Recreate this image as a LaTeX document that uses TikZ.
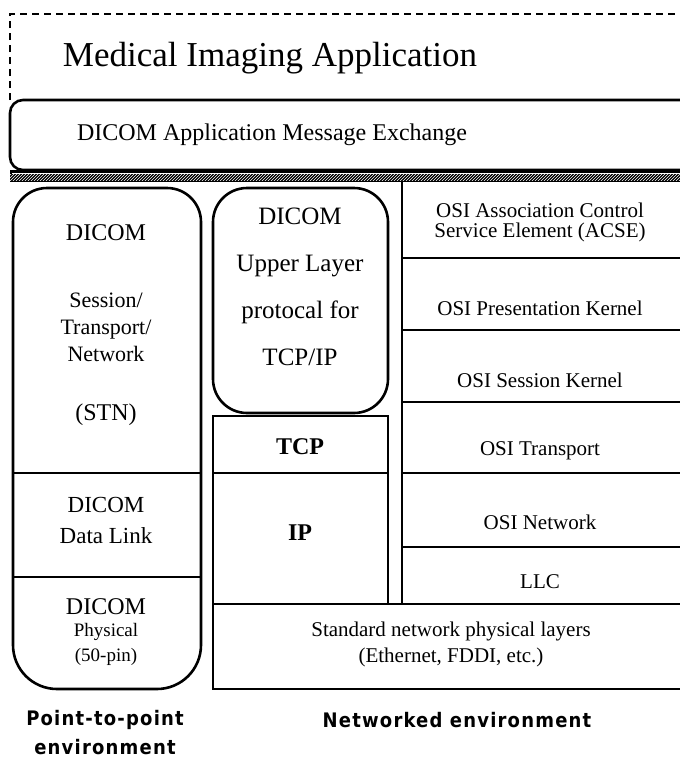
\documentclass[tikz,border=0pt]{standalone}
\usepackage{fontspec}
\setmainfont{Liberation Serif}
\newfontfamily\envfont[LetterSpace=6]{DejaVu Sans Condensed Bold}
\usetikzlibrary{patterns}

\tikzset{
  layer/.style={font=\fontsize{21}{20}\selectfont, align=center},
  dicom/.style={font=\fontsize{24}{27}\selectfont, align=center},
  env/.style={font=\envfont\fontsize{20}{29}\selectfont, align=center, inner sep=1pt}
}

\begin{document}
\begin{tikzpicture}[x=1pt,y=-1pt,line width=2.6pt]
   \useasboundingbox (0,0) rectangle (680,761);
   \clip (0,0) rectangle (680,761);
   \draw[line width=1.5pt,dash pattern=on 7pt off 5pt] (10,100) -- (10,14) -- (690,14);
   \draw[rounded corners=13pt] (700,100) -- (10,100) -- (10,170) -- (700,170);
   \fill (10,170) rectangle (690,182);
   \draw[line width=0.8pt,white] (12,173) -- (690,173);
   \fill[pattern=north east lines,pattern color=white] (10,174) rectangle (690,180);
   \draw (13,430) [rounded corners=34pt] -- (13,188) -- (201,188) -- (201,430)
         [rounded corners=44pt] -- (201,689) -- (13,689) -- cycle;
   \draw (13,473) -- (201,473);
   \draw (13,577) -- (201,577);
   \draw[rounded corners=34pt] (213,188) rectangle (388,413);
   \draw (213,416) rectangle (388,604);
   \draw (213,473) -- (388,473);
   \draw (402,182) -- (402,604);
   \foreach \y in {258,330,402,473,547} \draw (402,\y) -- (690,\y);
   \draw (690,604) -- (213,604) -- (213,689) -- (690,689);

   \node[dicom] (app) at (270,58) {\fontsize{35}{40}\selectfont Medical Imaging Application};
   \node[dicom] (amx) at (272,135) {DICOM Application Message Exchange};

   \node[dicom] (stn) at (106,233) {DICOM};
   \node[dicom,font=\fontsize{22}{27}\selectfont] (stnlayers) at (106,327) {Session/\\Transport/\\Network};
   \node[dicom] (stnabbr) at (106,415) {(STN)};
   \node[dicom,font=\fontsize{23}{31}\selectfont] (link) at (106,520) {DICOM\\Data Link};
   \node[dicom] (phys) at (106,607) {DICOM};
   \node[layer,font=\fontsize{19}{25}\selectfont] (physpin) at (106,644) {Physical\\(50-pin)};

   \node[dicom,font=\fontsize{25}{47}\selectfont] (ulp) at (300,287) {DICOM\\Upper Layer\\protocal for\\TCP/IP};
   \node[dicom,font=\bfseries\fontsize{24}{27}\selectfont] (tcp) at (300,447) {TCP};
   \node[dicom,font=\bfseries\fontsize{24}{27}\selectfont] (ip) at (300,533) {IP};

   \node[layer] (acse) at (540,222) {OSI Association Control\\Service Element (ACSE)};
   \node[layer] (pres) at (540,308) {OSI Presentation Kernel};
   \node[layer] (sess) at (540,380) {OSI Session Kernel};
   \node[layer] (trans) at (540,451) {OSI Transport};
   \node[layer] (net) at (540,522) {OSI Network};
   \node[layer] (llc) at (540,582) {LLC};
   \node[layer,font=\fontsize{21}{26}\selectfont] (stdphys) at (451,644) {Standard network physical layers\\(Ethernet, FDDI, etc.)};

   \node[env] (ptp) at (105,733) {Point-to-point\\environment};
   \node[env] (netenv) at (457,720) {Networked environment};
\end{tikzpicture}
\end{document}
